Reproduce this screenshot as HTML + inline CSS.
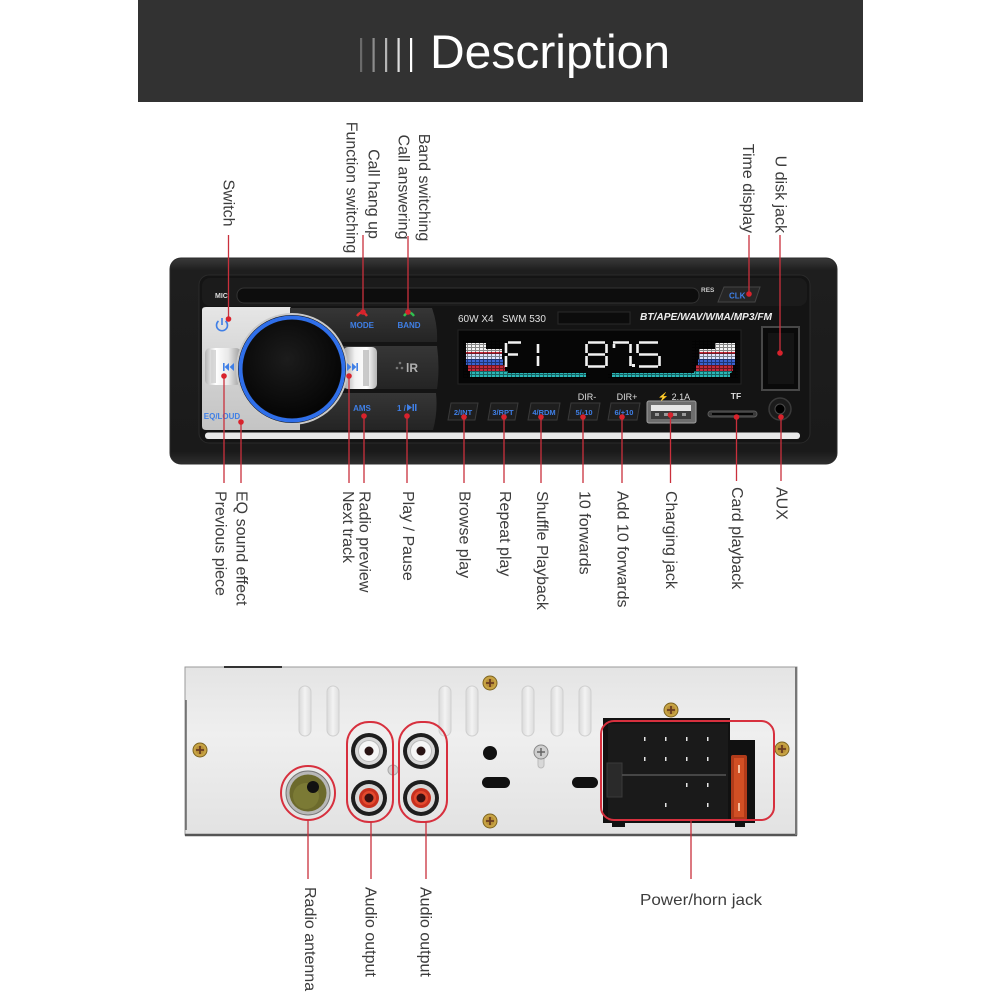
<!DOCTYPE html>
<html><head><meta charset="utf-8">
<style>
html,body{margin:0;padding:0;background:#fff;}
svg{display:block;}
text{font-family:"Liberation Sans",sans-serif;}
.lb{font-size:16px;fill:#3c3c3c;}
.bl{fill:#3f7fe6;font-weight:bold;}
</style></head><body>
<svg width="1001" height="1001" viewBox="0 0 1001 1001" xmlns="http://www.w3.org/2000/svg">
<defs>
<linearGradient id="silver" x1="0" y1="0" x2="0" y2="1">
<stop offset="0" stop-color="#e6e6e6"/><stop offset="0.5" stop-color="#d2d2d2"/><stop offset="1" stop-color="#c4c4c4"/></linearGradient>
<linearGradient id="sbtn" x1="0" y1="0" x2="1" y2="0">
<stop offset="0" stop-color="#9a9a9a"/><stop offset="0.35" stop-color="#f2f2f2"/><stop offset="0.7" stop-color="#ffffff"/><stop offset="1" stop-color="#b5b5b5"/></linearGradient>
<linearGradient id="sbtn2" x1="1" y1="0" x2="0" y2="0">
<stop offset="0" stop-color="#9a9a9a"/><stop offset="0.35" stop-color="#e8e8e8"/><stop offset="0.7" stop-color="#ffffff"/><stop offset="1" stop-color="#b5b5b5"/></linearGradient>
<linearGradient id="strip" x1="0" y1="0" x2="0" y2="1">
<stop offset="0" stop-color="#363636"/><stop offset="1" stop-color="#242424"/></linearGradient>
<linearGradient id="bez" x1="0" y1="0" x2="0" y2="1">
<stop offset="0" stop-color="#3a3a3a"/><stop offset="0.06" stop-color="#1e1e1e"/><stop offset="0.94" stop-color="#1a1a1a"/><stop offset="1" stop-color="#2e2e2e"/></linearGradient>
<radialGradient id="knob" cx="0.45" cy="0.4" r="0.6">
<stop offset="0" stop-color="#1c1c1c"/><stop offset="1" stop-color="#050505"/></radialGradient>
<linearGradient id="back" x1="0" y1="0" x2="0" y2="1">
<stop offset="0" stop-color="#e4e4e4"/><stop offset="0.4" stop-color="#efefef"/><stop offset="1" stop-color="#e2e2e2"/></linearGradient>
<linearGradient id="vent" x1="0" y1="0" x2="1" y2="0">
<stop offset="0" stop-color="#d9d9d9"/><stop offset="0.5" stop-color="#f3f3f3"/><stop offset="1" stop-color="#dcdcdc"/></linearGradient>
<pattern id="grid" width="4" height="3" patternUnits="userSpaceOnUse">
<rect x="3" y="0" width="1" height="3" fill="#000"/><rect x="0" y="2" width="4" height="1" fill="#000"/></pattern>
<g id="screw"><circle r="7" fill="#c8a445" stroke="#7d6420" stroke-width="1"/><circle r="4.5" fill="#b89038"/><path d="M-4 0H4M0-4V4" stroke="#6a3c20" stroke-width="1.8"/></g>
</defs>

<!-- Header -->
<rect x="138" y="0" width="725" height="102" fill="#323232"/>
<rect x="360" y="38" width="2.2" height="34" fill="#6a6a6a"/>
<rect x="372.5" y="38" width="2.2" height="34" fill="#8c8c8c"/>
<rect x="385" y="38" width="2.2" height="34" fill="#b4b4b4"/>
<rect x="397.5" y="38" width="2.2" height="34" fill="#dedede"/>
<rect x="410" y="38" width="2.2" height="34" fill="#ffffff"/>
<text x="430" y="68" font-size="47" fill="#fff" textLength="240" lengthAdjust="spacingAndGlyphs">Description</text>

<!-- Top labels -->
<text class="lb" transform="translate(228,203) rotate(90)" dominant-baseline="central" text-anchor="middle">Switch</text>
<text class="lb" transform="translate(373,194) rotate(90)" dominant-baseline="central" text-anchor="middle">Call hang up</text>
<text class="lb" transform="translate(351,187.5) rotate(90)" dominant-baseline="central" text-anchor="middle">Function switching</text>
<text class="lb" transform="translate(423.5,187.5) rotate(90)" dominant-baseline="central" text-anchor="middle">Band switching</text>
<text class="lb" transform="translate(403,187) rotate(90)" dominant-baseline="central" text-anchor="middle">Call answering</text>
<text class="lb" transform="translate(747.5,233) rotate(90)" dominant-baseline="central" text-anchor="end">Time display</text>
<text class="lb" transform="translate(780,233) rotate(90)" dominant-baseline="central" text-anchor="end">U disk jack</text>

<!-- Radio front -->
<rect x="170" y="258" width="667" height="206" rx="11" fill="url(#bez)" stroke="#2c2c2c" stroke-width="1"/>
<rect x="199" y="275" width="611" height="168" rx="10" fill="#141414" stroke="#2a2a2a"/>
<rect x="202" y="278" width="605" height="28" rx="8" fill="#1b1b1b"/>
<rect x="237" y="288" width="462" height="15" rx="7" fill="#0d0d0d" stroke="#333" stroke-width="1"/>
<text x="215" y="298" font-size="7" font-weight="bold" fill="#ddd">MIC</text>
<text x="701" y="292" font-size="6.5" font-weight="bold" fill="#ccc">RES</text>
<polygon points="724,287 760,287 755,302 718,302" fill="#262626" stroke="#444"/>
<text x="729" y="298.5" font-size="8" class="bl">CLK</text>

<!-- silver left panel -->
<path d="M202 310 Q202 307 206 307 L290 307 L300 318 L300 430 L206 430 Q202 430 202 426 Z" fill="url(#silver)"/>
<!-- dark strips -->
<path d="M290 308 L432 308 Q438 325 437 342 L290 342 Z" fill="url(#strip)"/>
<path d="M300 346 L437 346 Q440 368 437 389 L300 389 Z" fill="url(#strip)"/>
<path d="M300 393 L436 393 Q438 412 433 430 L300 430 Z" fill="url(#strip)"/>
<!-- side buttons -->
<rect x="205" y="348" width="36" height="37" rx="5" fill="url(#sbtn2)"/>
<rect x="211" y="350" width="5" height="33" fill="#cfcfcf" opacity="0.8"/>
<rect x="343" y="347" width="34" height="42" rx="5" fill="url(#sbtn)"/>
<rect x="363" y="350" width="6" height="36" fill="#bdbdbd" opacity="0.8"/>
<!-- knob -->
<circle cx="292" cy="369" r="56" fill="#c9c9c9"/>
<circle cx="292" cy="369" r="54" fill="#101010"/>
<circle cx="292" cy="369" r="51.5" fill="none" stroke="#2f6fea" stroke-width="4"/>
<circle cx="292" cy="369" r="49" fill="url(#knob)"/>
<!-- icons -->
<path d="M218.5 321 A5.5 5.5 0 1 0 225.5 321" fill="none" stroke="#3f7fe6" stroke-width="1.6"/>
<line x1="222" y1="318" x2="222" y2="325" stroke="#3f7fe6" stroke-width="1.6"/>
<g fill="#3f7fe6"><rect x="223" y="363" width="1.6" height="8"/><polygon points="229,363 229,371 224.6,367"/><polygon points="234,363 234,371 229.6,367"/></g>
<g fill="#3f7fe6"><polygon points="347,363 347,371 351.4,367"/><polygon points="352,363 352,371 356.4,367"/><rect x="356.4" y="363" width="1.6" height="8"/></g>
<text x="222" y="419" font-size="8" class="bl" text-anchor="middle">EQ/LOUD</text>
<path d="M357 316 Q362 309 367 316" fill="none" stroke="#e03030" stroke-width="2.4"/>
<text x="362" y="328" font-size="8" class="bl" text-anchor="middle">MODE</text>
<path d="M404 316 Q409 309 414 316" fill="none" stroke="#2fc050" stroke-width="2.4"/>
<text x="409" y="328" font-size="8" class="bl" text-anchor="middle">BAND</text>
<g fill="#777"><circle cx="400" cy="363" r="1.3"/><circle cx="397" cy="368" r="1.3"/><circle cx="402" cy="368" r="1.3"/></g>
<text x="406" y="372" font-size="12" font-weight="bold" fill="#b0b0b0">lR</text>
<text x="362" y="411" font-size="8" class="bl" text-anchor="middle">AMS</text>
<text x="397" y="411" font-size="8" class="bl">1 /</text>
<polygon points="407,404 407,411 412,407.5" fill="#3f7fe6"/><rect x="412.5" y="404" width="1.5" height="7" fill="#3f7fe6"/><rect x="415" y="404" width="1.5" height="7" fill="#3f7fe6"/>

<!-- Text on face -->
<text x="458" y="322" font-size="10" fill="#e0e0e0">60W X4</text>
<text x="502" y="322" font-size="10" fill="#e0e0e0">SWM 530</text>
<rect x="558" y="312" width="72" height="12" fill="#0c0c0c" stroke="#2a2a2a"/>
<text x="640" y="320" font-size="10" font-weight="bold" font-style="italic" fill="#eee" textLength="132" lengthAdjust="spacingAndGlyphs">BT/APE/WAV/WMA/MP3/FM</text>
<!-- display -->
<rect x="458" y="330" width="283" height="54" fill="#060606" stroke="#252525"/>
<!-- EQ left -->
<rect x="466" y="343" width="20" height="8" fill="#f4f4f4"/>
<rect x="466" y="349" width="36" height="3" fill="#f4f4f4"/>
<rect x="466" y="352" width="36" height="2" fill="#d23040"/>
<rect x="466" y="354" width="36" height="5" fill="#dfe6ff"/>
<rect x="466" y="359" width="37" height="6" fill="#3a62d0"/>
<rect x="468" y="365" width="37" height="6" fill="#c52a3a"/>
<rect x="470" y="371" width="38" height="2" fill="#2ab6b6"/>
<rect x="470" y="373" width="116" height="4" fill="#2ab6b6"/>
<!-- EQ right -->
<rect x="715" y="343" width="20" height="8" fill="#f4f4f4"/>
<rect x="699" y="349" width="36" height="3" fill="#f4f4f4"/>
<rect x="699" y="352" width="36" height="2" fill="#d23040"/>
<rect x="699" y="354" width="36" height="5" fill="#dfe6ff"/>
<rect x="698" y="359" width="37" height="6" fill="#3a62d0"/>
<rect x="696" y="365" width="37" height="6" fill="#c52a3a"/>
<rect x="694" y="371" width="38" height="2" fill="#2ab6b6"/>
<rect x="612" y="373" width="118" height="4" fill="#2ab6b6"/>
<g opacity="0.45">
<rect x="463" y="340" width="47" height="38" fill="url(#grid)"/>
<rect x="510" y="372" width="80" height="6" fill="url(#grid)"/>
<rect x="608" y="372" width="90" height="6" fill="url(#grid)"/>
<rect x="692" y="340" width="46" height="38" fill="url(#grid)"/>
</g>
<!-- digits -->
<g stroke="#f2f2f2" stroke-width="2.6" fill="none" stroke-linecap="butt">
<path d="M506 343V353M506 356V367M508 342.5H521M508 354.5H518"/>
<path d="M538 344V353M538 356V366"/>
<path d="M588 342.5H605M588 354.5H605M588 366.5H605M586.5 344V353M586.5 356V366M606.5 344V353M606.5 356V366"/>
<path d="M613 342.5H629M630.5 344V353M630.5 356V366M614 344V348"/>
<path d="M639 342.5H658M637.5 344V353M639 354.5H658M659.5 356V366M639 366.5H658"/>
</g>
<rect x="632" y="364" width="3" height="3" fill="#f2f2f2"/>
<!-- USB right slot -->
<rect x="762" y="327" width="37" height="63" fill="#0a0a0a" stroke="#474747" stroke-width="2"/>
<rect x="768" y="333" width="26" height="51" fill="#141414"/>
<!-- button row -->
<text x="587" y="400" font-size="9" fill="#ddd" text-anchor="middle">DIR-</text>
<text x="627" y="400" font-size="9" fill="#ddd" text-anchor="middle">DIR+</text>
<text x="674" y="400" font-size="9" fill="#ddd" text-anchor="middle">&#x26A1; 2.1A</text>
<text x="736" y="399" font-size="8.5" font-weight="bold" fill="#ddd" text-anchor="middle">TF</text>
<g fill="#1e1e1e" stroke="#3a3a3a">
<polygon points="451,403 478,403 475,420 448,420"/>
<polygon points="491,403 518,403 515,420 488,420"/>
<polygon points="531,403 560,403 557,420 528,420"/>
<polygon points="571,403 600,403 597,420 568,420"/>
<polygon points="611,403 640,403 637,420 608,420"/>
</g>
<g font-size="7.5" class="bl" text-anchor="middle">
<text x="463" y="415">2/INT</text>
<text x="503" y="415">3/RPT</text>
<text x="544" y="415">4/RDM</text>
<text x="584" y="415">5/-10</text>
<text x="624" y="415">6/+10</text>
</g>
<rect x="647" y="401" width="49" height="22" rx="2" fill="#6e6e6e" stroke="#a0a0a0"/>
<rect x="651" y="405" width="40" height="6" fill="#e6e6e6"/>
<rect x="651" y="411" width="40" height="8" fill="#3c3c3c"/>
<g fill="#999"><rect x="655" y="413" width="4" height="3"/><rect x="664" y="413" width="4" height="3"/><rect x="673" y="413" width="4" height="3"/><rect x="682" y="413" width="4" height="3"/></g>
<rect x="708" y="411" width="49" height="6" rx="3" fill="#3a3a3a" stroke="#5a5a5a"/>
<rect x="712" y="413" width="41" height="2" fill="#050505"/>
<circle cx="780" cy="409" r="11" fill="#1b1b1b" stroke="#3a3a3a" stroke-width="1.5"/>
<circle cx="780" cy="409" r="5" fill="#000" stroke="#4a4a4a"/>
<rect x="205" y="432.5" width="595" height="6.5" rx="3" fill="#e9e9e9"/>

<!-- Red connectors front -->
<g stroke="#c9303c" stroke-width="1.3">
<line x1="228.5" y1="235" x2="228.5" y2="319"/>
<line x1="363" y1="235" x2="363" y2="312"/>
<line x1="408" y1="236" x2="408" y2="312"/>
<line x1="749" y1="235" x2="749" y2="294"/>
<line x1="780" y1="235" x2="780" y2="353"/>
<line x1="224" y1="376" x2="224" y2="483"/>
<line x1="241" y1="422" x2="241" y2="483"/>
<line x1="349" y1="376" x2="349" y2="483"/>
<line x1="364" y1="416" x2="364" y2="483"/>
<line x1="407" y1="416" x2="407" y2="483"/>
<line x1="464" y1="417" x2="464" y2="483"/>
<line x1="504" y1="417" x2="504" y2="483"/>
<line x1="541" y1="417" x2="541" y2="483"/>
<line x1="583" y1="417" x2="583" y2="483"/>
<line x1="622" y1="417" x2="622" y2="483"/>
<line x1="670.5" y1="415" x2="670.5" y2="483"/>
<line x1="736.5" y1="417" x2="736.5" y2="481"/>
<line x1="781" y1="417" x2="781" y2="481"/>
</g>
<g fill="#d8222c">
<circle cx="228.5" cy="319" r="2.8"/><circle cx="363" cy="312" r="2.8"/><circle cx="408" cy="312" r="2.8"/>
<circle cx="749" cy="294" r="2.8"/><circle cx="780" cy="353" r="2.8"/>
<circle cx="224" cy="376" r="2.8"/><circle cx="241" cy="422" r="2.8"/><circle cx="349" cy="376" r="2.8"/>
<circle cx="364" cy="416" r="2.8"/><circle cx="407" cy="416" r="2.8"/><circle cx="464" cy="417" r="2.8"/>
<circle cx="504" cy="417" r="2.8"/><circle cx="541" cy="417" r="2.8"/><circle cx="583" cy="417" r="2.8"/>
<circle cx="622" cy="417" r="2.8"/><circle cx="670.5" cy="415" r="2.8"/><circle cx="736.5" cy="417" r="2.8"/>
<circle cx="781" cy="417" r="2.8"/>
</g>

<!-- Bottom labels front -->
<g class="lb" dominant-baseline="central">
<text class="lb" transform="translate(220,491) rotate(90)" dominant-baseline="central">Previous piece</text>
<text class="lb" transform="translate(241,491) rotate(90)" dominant-baseline="central">EQ sound effect</text>
<text class="lb" transform="translate(347.5,491) rotate(90)" dominant-baseline="central">Next track</text>
<text class="lb" transform="translate(364,491) rotate(90)" dominant-baseline="central">Radio preview</text>
<text class="lb" transform="translate(407.5,491) rotate(90)" dominant-baseline="central">Play / Pause</text>
<text class="lb" transform="translate(464,491) rotate(90)" dominant-baseline="central">Browse play</text>
<text class="lb" transform="translate(504.5,491) rotate(90)" dominant-baseline="central">Repeat play</text>
<text class="lb" transform="translate(541.5,491) rotate(90)" dominant-baseline="central">Shuffle Playback</text>
<text class="lb" transform="translate(584,491) rotate(90)" dominant-baseline="central">10 forwards</text>
<text class="lb" transform="translate(622,491) rotate(90)" dominant-baseline="central">Add 10 forwards</text>
<text class="lb" transform="translate(670.5,491) rotate(90)" dominant-baseline="central">Charging jack</text>
<text class="lb" transform="translate(736.5,487) rotate(90)" dominant-baseline="central">Card playback</text>
<text class="lb" transform="translate(781,487) rotate(90)" dominant-baseline="central">AUX</text>
</g>

<!-- Back panel -->
<rect x="185" y="667" width="612" height="168" fill="url(#back)" stroke="#9a9a9a" stroke-width="1"/>
<line x1="185" y1="835" x2="797" y2="835" stroke="#555" stroke-width="2.5"/>
<line x1="224" y1="667" x2="282" y2="667" stroke="#333" stroke-width="2"/>
<line x1="796" y1="667" x2="796" y2="835" stroke="#777" stroke-width="2"/>
<line x1="186" y1="700" x2="186" y2="830" stroke="#666" stroke-width="1.5"/>
<g fill="url(#vent)" stroke="#cfcfcf" stroke-width="1">
<rect x="299" y="686" width="12" height="50" rx="6"/>
<rect x="327" y="686" width="12" height="50" rx="6"/>
<rect x="439" y="686" width="12" height="50" rx="6"/>
<rect x="466" y="686" width="12" height="50" rx="6"/>
<rect x="522" y="686" width="12" height="50" rx="6"/>
<rect x="551" y="686" width="12" height="50" rx="6"/>
<rect x="579" y="686" width="12" height="50" rx="6"/>
</g>
<!-- screws -->
<use href="#screw" x="200" y="750"/>
<use href="#screw" x="490" y="683"/>
<use href="#screw" x="490" y="821"/>
<use href="#screw" x="671" y="710"/>
<use href="#screw" x="782" y="749"/>
<rect x="538" y="752" width="6" height="16" rx="3" fill="#d8d8d8" stroke="#bbb"/>
<circle cx="541" cy="752" r="7" fill="#cfcfcf" stroke="#888"/>
<path d="M537 752H545M541 748V756" stroke="#666" stroke-width="1.5"/>
<circle cx="393" cy="770" r="5" fill="#d0d0d0" stroke="#aaa"/>
<!-- holes -->
<circle cx="490" cy="753" r="7" fill="#111"/>
<rect x="482" y="777" width="28" height="11" rx="5.5" fill="#111"/>
<rect x="572" y="777" width="26" height="11" rx="5.5" fill="#111"/>
<!-- antenna -->
<circle cx="308" cy="793" r="22" fill="#b8b8b8" stroke="#777" stroke-width="1"/>
<circle cx="308" cy="793" r="18.5" fill="#6c6a2c"/>
<circle cx="306" cy="796" r="13" fill="#7b7a35"/>
<circle cx="313" cy="787" r="6" fill="#111"/>
<circle cx="308" cy="793" r="27" fill="none" stroke="#d7303e" stroke-width="2"/>
<!-- RCA -->
<g>
<circle cx="369" cy="751" r="18" fill="#1e1e1e"/><circle cx="369" cy="751" r="14" fill="#d8d8d8"/><circle cx="369" cy="751" r="10.5" fill="#f6f6f6" stroke="#bbb"/><circle cx="369" cy="751" r="4.5" fill="#2a1515"/>
<circle cx="369" cy="798" r="18" fill="#1e1e1e"/><circle cx="369" cy="798" r="14" fill="#d8d8d8"/><circle cx="369" cy="798" r="10" fill="#c8301e"/><circle cx="369" cy="798" r="7" fill="#e34a2e"/><circle cx="369" cy="798" r="4.5" fill="#3a1010"/>
<circle cx="421" cy="751" r="18" fill="#1e1e1e"/><circle cx="421" cy="751" r="14" fill="#d8d8d8"/><circle cx="421" cy="751" r="10.5" fill="#f6f6f6" stroke="#bbb"/><circle cx="421" cy="751" r="4.5" fill="#2a1515"/>
<circle cx="421" cy="798" r="18" fill="#1e1e1e"/><circle cx="421" cy="798" r="14" fill="#d8d8d8"/><circle cx="421" cy="798" r="10" fill="#c8301e"/><circle cx="421" cy="798" r="7" fill="#e34a2e"/><circle cx="421" cy="798" r="4.5" fill="#3a1010"/>
</g>
<rect x="347" y="722" width="46" height="100" rx="22" fill="none" stroke="#d7303e" stroke-width="2"/>
<rect x="399" y="722" width="48" height="100" rx="22" fill="none" stroke="#d7303e" stroke-width="2"/>
<!-- power connector -->
<path d="M603 718 H730 V740 H755 V823 H745 V827 H735 V823 H625 V827 H612 V823 H603 Z" fill="#111"/>
<rect x="608" y="724" width="120" height="97" fill="#1a1a1a"/>
<rect x="607" y="763" width="15" height="34" fill="#2a2a2a" stroke="#3a3a3a"/>
<line x1="622" y1="775" x2="726" y2="775" stroke="#555" stroke-width="1.5"/>
<g fill="#e6e6e6">
<rect x="644" y="737" width="1.5" height="4"/><rect x="665" y="737" width="1.5" height="4"/><rect x="686" y="737" width="1.5" height="4"/><rect x="707" y="737" width="1.5" height="4"/>
<rect x="644" y="757" width="1.5" height="4"/><rect x="665" y="757" width="1.5" height="4"/><rect x="686" y="757" width="1.5" height="4"/><rect x="707" y="757" width="1.5" height="4"/>
<rect x="686" y="783" width="1.5" height="4"/><rect x="707" y="783" width="1.5" height="4"/>
<rect x="665" y="803" width="1.5" height="4"/><rect x="707" y="803" width="1.5" height="4"/>
</g>
<rect x="731" y="755" width="16" height="65" rx="2" fill="#c2401c" opacity="0.9"/>
<rect x="734" y="758" width="10" height="59" fill="#e0582a" opacity="0.7"/>
<rect x="738" y="765" width="2" height="8" fill="#f6c0a0"/><rect x="738" y="803" width="2" height="8" fill="#f6c0a0"/>
<rect x="601" y="721" width="173" height="99" rx="13" fill="none" stroke="#d7303e" stroke-width="2"/>

<!-- back connectors -->
<g stroke="#c9303c" stroke-width="1.3">
<line x1="308" y1="820" x2="308" y2="879"/>
<line x1="371" y1="822" x2="371" y2="879"/>
<line x1="426" y1="822" x2="426" y2="879"/>
<line x1="691" y1="820" x2="691" y2="879"/>
</g>
<text class="lb" transform="translate(309.5,887) rotate(90)" dominant-baseline="central">Radio antenna</text>
<text class="lb" transform="translate(370,887) rotate(90)" dominant-baseline="central">Audio output</text>
<text class="lb" transform="translate(425,887) rotate(90)" dominant-baseline="central">Audio output</text>
<text class="lb" x="640" y="905" font-size="16.5" textLength="122" lengthAdjust="spacingAndGlyphs">Power/horn jack</text>
</svg>
</body></html>
